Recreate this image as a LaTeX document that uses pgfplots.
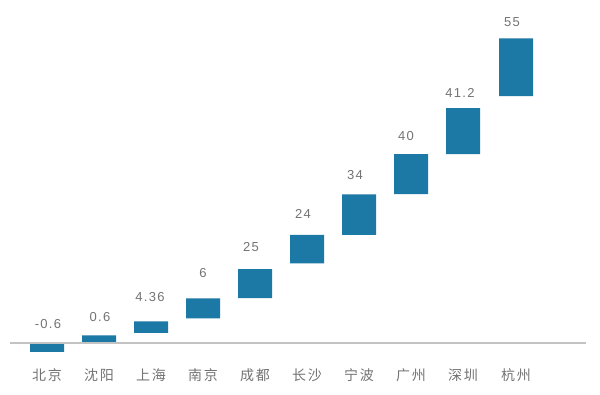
\documentclass[border=0pt]{standalone}
\usepackage{pgfplots}
\pgfplotsset{compat=1.18}
\usepackage{fontspec}
\setmainfont{Noto Sans CJK SC}
\newfontfamily\numfont[LetterSpace=10]{Liberation Sans}
\definecolor{barblue}{RGB}{28,120,164}
\definecolor{txtgray}{RGB}{115,115,115}
\definecolor{axgray}{RGB}{195,195,195}
\pgfplotsset{base/.style={
  scale only axis, width=600pt, height=394pt,
  xmin=0, xmax=600,
  clip=false,
  axis line style={draw=none},
  major tick length=0pt,
}}
\begin{document}
\begin{tikzpicture}
% bars: values offset by +20 so that every floating bar base is positive
\begin{axis}[base, ymin=-31, ymax=363,
  ybar stacked, bar width=34,
  xtick={47,99,151,203,255,307,359,411,463,516},
  xticklabels={北京,沈阳,上海,南京,成都,长沙,宁波,广州,深圳,杭州},
  ytick=\empty,
  xticklabel style={anchor=center, yshift=19pt, text=txtgray, font=\fontsize{14}{14}\selectfont\addfontfeature{LetterSpace=12}},
]
% invisible base of each floating bar (offset +20)
\addplot[fill=none, draw=none] coordinates {
(47,11.3) (99,20) (151,30.3) (203,44.7) (255,65) (307,99.7) (359,128.3) (411,169) (463,209) (516,267)};
% visible height of each floating bar
\addplot[fill=barblue, draw=none] coordinates {
(47,8.7) (99,7.7) (151,11.4) (203,20) (255,29) (307,28.6) (359,40.4) (411,40) (463,46) (516,57.7)};
\end{axis}
\begin{axis}[base, ymin=-51, ymax=343, xtick=\empty, ytick=\empty]
\path (rel axis cs:0,0) rectangle (rel axis cs:1,1);
\addplot[axgray, line width=1.5pt] coordinates {(10,0) (586,0)};
\addplot[draw=none, nodes near coords, point meta=explicit symbolic,
  every node near coord/.append style={anchor=center, text=txtgray, font=\numfont\fontsize{13}{13}\selectfont}]
  table[meta=lab] {
x y lab
48 19 -0.6
100 26 0.6
150 46 4.36
203 70 6
251 96 25
303 129 24
355 168 34
406 207 40
460 250 41.2
512 321 55
};
\end{axis}
\end{tikzpicture}
\end{document}
